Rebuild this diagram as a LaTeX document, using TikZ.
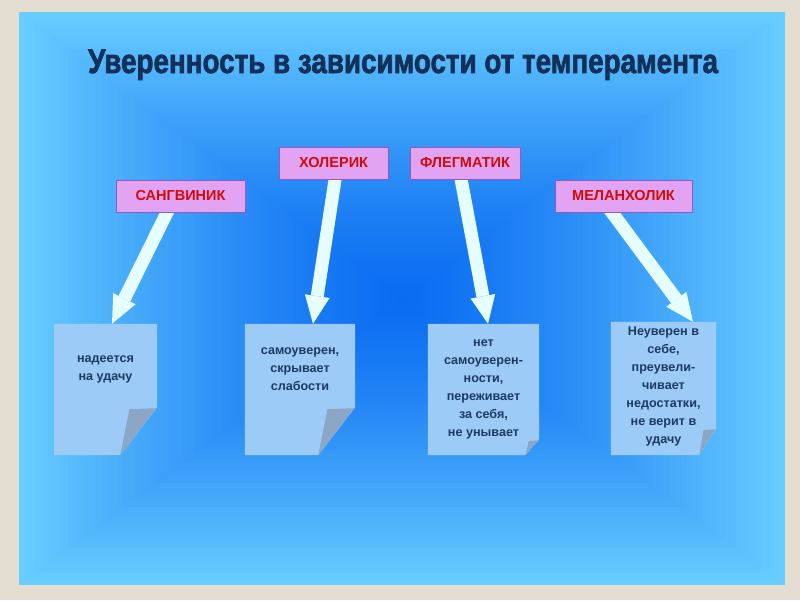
\documentclass[tikz,border=0pt]{standalone}
\usepackage{fontspec}
\setmainfont{Liberation Sans}
\newfontfamily\titlefont[FakeBold=2.2]{Liberation Sans Bold}
\usetikzlibrary{positioning,arrows.meta,backgrounds,calc}
\definecolor{PageBeige}{HTML}{E4DDD1}
\definecolor{PaleBlue}{HTML}{68CDFF}
\definecolor{DeepBlue}{HTML}{0A6CF2}
\definecolor{TitleNavy}{HTML}{12305A}
\definecolor{TagFill}{HTML}{E2A4F2}
\definecolor{TagEdge}{HTML}{9259BF}
\definecolor{TagRed}{HTML}{D10A0A}
\definecolor{NoteBlue}{HTML}{9DCBF8}
\definecolor{NoteFold}{HTML}{8CA6C6}
\definecolor{NoteText}{HTML}{1D3A63}
\definecolor{ArrowWhite}{HTML}{E6FEFF}
\newcommand{\titletext}{Уверенность в зависимости от темперамента}

\begin{document}
\begin{tikzpicture}[x=1pt,y=-1pt,
  tag/.style={draw=TagEdge, fill=TagFill, line width=0.8pt, minimum height=32pt,
              inner sep=0pt, font=\fontsize{14.5}{14.5}\selectfont\bfseries, text=TagRed},
  note/.style={minimum height=131pt, inner sep=0pt},
  txt/.style={align=center, inner sep=0pt, text=NoteText,
              font=\fontsize{12.6}{18}\selectfont\bfseries},
  ttl/.style={anchor=base, inner sep=0pt, font=\fontsize{34}{34}\titlefont},
  ar/.style={-{Triangle[width=25pt,length=28pt,line width=0pt]}, line width=13pt, ArrowWhite},
]
  % Title
  \node[ttl, text=TitleNavy] (title) at (403,73) {\scalebox{0.818}[1]{\titletext}};

  % Temperaments
  \node[tag, minimum width=129pt] (s1) at (180.5,196) {САНГВИНИК};
  \node[tag, minimum width=109pt] (s2) at (333.5,163) {ХОЛЕРИК};
  \node[tag, minimum width=110pt] (s3) at (465,163)   {ФЛЕГМАТИК};
  \node[tag, minimum width=137pt] (s4) at (623.5,196) {МЕЛАНХОЛИК};

  % Notes
  \node[note, minimum width=103pt] (n1) at (105.5,389.5) {};
  \node[note, minimum width=110pt] (n2) at (300,389.5)   {};
  \node[note, minimum width=111pt] (n3) at (483.5,389.5) {};
  \node[note, minimum width=105pt, minimum height=133pt] (n4) at (663.5,388.5) {};

  \node[txt, below=32pt of n1.north] (t1) {надеется\\на удачу};
  \node[txt, below=24pt of n2.north] (t2) {самоуверен,\\скрывает\\слабости};
  \node[txt, below=16pt of n3.north] (t3) {нет\\самоуверен-\\ности,\\переживает\\за себя,\\не унывает};
  \node[txt, below=5pt of n4.north]  (t4) {Неуверен в\\себе,\\преувели-\\чивает\\недостатки,\\не верит в\\удачу};

  \begin{scope}[on background layer]
    \fill[PageBeige] (0,0) rectangle (800,600);
    % panel gradient
    \foreach \i in {0,...,69}{
      \pgfmathsetmacro\t{\i/70}
      \pgfmathtruncatemacro\p{100*(1-(1-\i/69)^1.3)}
      \fill[DeepBlue!\p!PaleBlue] (19+383*\t,12+286.5*\t) rectangle (785-383*\t,585-286.5*\t);
    }
    % note sheets with folded corner
    \foreach \n/\fx/\fy in {n1/37/48,n2/37/48,n3/14/16,n4/17/27}{
      \fill[NoteBlue] (\n.north west) -- (\n.north east) -- ([yshift=\fy*1pt]\n.south east)
        -- ([xshift=-\fx*1pt]\n.south east) -- (\n.south west) -- cycle;
      \fill[NoteFold] ([xshift=-1pt,yshift=\fy*1pt-1pt]\n.south east) -- ([xshift=-\fx*1pt]\n.south east)
        -- ([xshift=-0.75*\fx*1pt,yshift=\fy*1pt-2pt]\n.south east) -- cycle;
    }
    % arrows
    \foreach \a/\b/\sa/\sb in {s1/n1/-10.5/6.5,s2/n2/2.5/13,s3/n3/-5/4.5,s4/n4/-16/29.5}
      \draw[ar] ([xshift=\sa*1pt,yshift=6pt]\a.south) -- ([xshift=\sb*1pt]\b.north);
  \end{scope}
\end{tikzpicture}
\end{document}
